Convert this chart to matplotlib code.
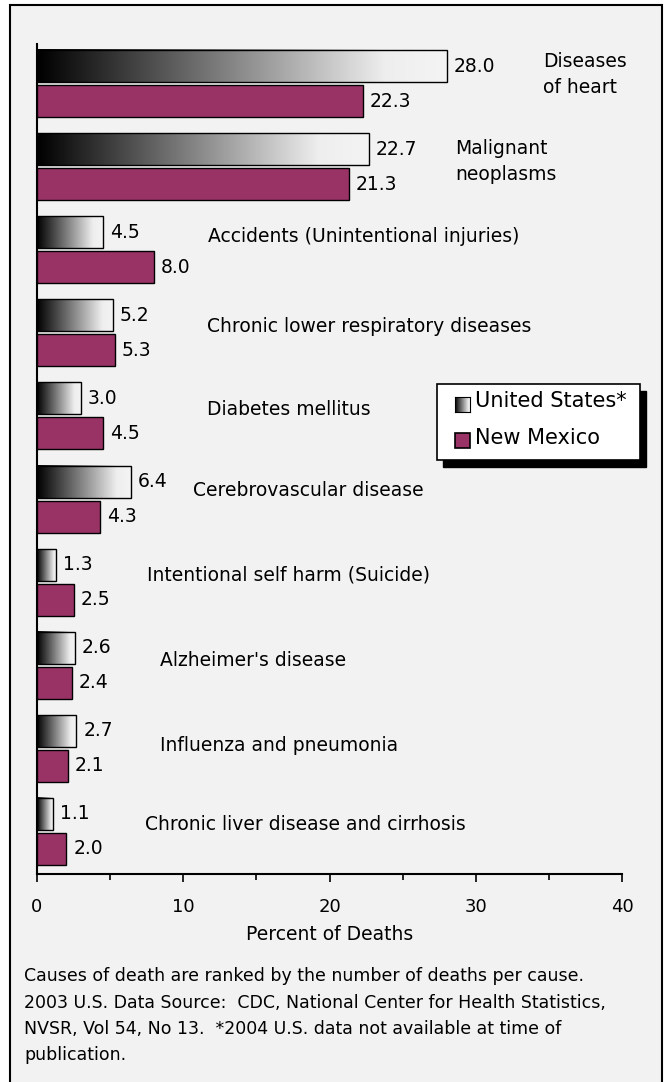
import matplotlib
matplotlib.use("Agg")
import matplotlib.pyplot as plt
import numpy as np
from matplotlib.colors import LinearSegmentedColormap
from matplotlib.patches import Rectangle

# data
causes = ["Diseases\nof heart", "Malignant\nneoplasms", "Accidents (Unintentional injuries)",
          "Chronic lower respiratory diseases", "Diabetes mellitus", "Cerebrovascular disease",
          "Intentional self harm (Suicide)", "Alzheimer's disease", "Influenza and pneumonia",
          "Chronic liver disease and cirrhosis"]
us = [28.0, 22.7, 4.5, 5.2, 3.0, 6.4, 1.3, 2.6, 2.7, 1.1]
nm = [22.3, 21.3, 8.0, 5.3, 4.5, 4.3, 2.5, 2.4, 2.1, 2.0]
x_ticks = [0, 10, 20, 30, 40]

# where each cause name sits (x in data units, y shift in pixels)
name_x = [34.6, 28.6, 11.7, 11.6, 11.6, 10.7, 7.5, 8.4, 8.4, 7.4]
name_dy = [-9, -5, -13, -6, -6, -9, -7, -5, -3, -7]

W, H = 665, 1082
plum = "#993366"
bg = "#F2F2F2"
grad = LinearSegmentedColormap.from_list("g", [(0, "#000000"), (0.5, "#8c8c8c"), (0.85, "#eeeeee"), (1, "#f4f4f4")])
g = np.linspace(0, 1, 256).reshape(1, -1)

def fx(px):
    return px / W

def fy(py):
    return 1 - py / H

fig = plt.figure(figsize=(W / 100, H / 100), dpi=100, facecolor="white")
fig.patches.append(Rectangle((fx(10), fy(1095)), fx(652), (1095 - 5) / H, transform=fig.transFigure,
                             facecolor=bg, edgecolor="black", linewidth=1.5, zorder=-5))

ax = fig.add_axes([fx(37), fy(874), fx(622 - 37), (874 - 44) / H], zorder=1)
ax.set_facecolor("none")
pitch = 83.1
bh = 32 / pitch
off = 17.5 / pitch
n = len(us)
for i in range(n):
    y_us = i - off
    y_nm = i + off
    ax.imshow(g, cmap=grad, aspect="auto", extent=[0, us[i], y_us + bh / 2, y_us - bh / 2], zorder=2)
    ax.add_patch(Rectangle((0, y_us - bh / 2), us[i], bh, facecolor="none", edgecolor="black", lw=1, zorder=3))
    ax.barh(y_nm, nm[i], height=bh, color=plum, edgecolor="black", lw=1, zorder=3)
    ax.annotate(f"{us[i]:.1f}", (us[i], y_us), xytext=(5, 0), textcoords="offset points",
                va="center", ha="left", fontsize=13.5)
    ax.annotate(f"{nm[i]:.1f}", (nm[i], y_nm), xytext=(5, 0), textcoords="offset points",
                va="center", ha="left", fontsize=13.5)
    ax.text(name_x[i], i + name_dy[i] / pitch, causes[i], va="center", ha="left",
            fontsize=13.5, linespacing=1.45)

ax.set_xlim(0, 40)
ax.set_ylim(n - 1 + 42.6 / pitch, -39.5 / pitch)
ax.set_xticks(x_ticks)
ax.set_xticks([5, 15, 25, 35], minor=True)
ax.tick_params(axis="x", which="major", length=6, width=1.2, direction="out", pad=11, labelsize=13)
ax.tick_params(axis="x", which="minor", length=4, width=1.2, direction="out")
ax.set_yticks([])
for s in ["top", "right"]:
    ax.spines[s].set_visible(False)
ax.spines["bottom"].set_linewidth(1.5)
ax.spines["left"].set_linewidth(1.5)
ax.set_xlabel("Percent of Deaths", fontsize=13.5, labelpad=7)

# legend drawn by hand
fig.patches.append(Rectangle((fx(443), fy(467)), fx(640 - 437), (460 - 384) / H, transform=fig.transFigure,
                             facecolor="black", edgecolor="black", zorder=5))
fig.patches.append(Rectangle((fx(437), fy(460)), fx(640 - 437), (460 - 384) / H, transform=fig.transFigure,
                             facecolor="white", edgecolor="black", lw=1.2, zorder=6))
sw = fig.add_axes([fx(455), fy(412), fx(15), 15 / H], zorder=7)
sw.imshow(g, cmap=grad, aspect="auto")
sw.set_xticks([])
sw.set_yticks([])
fig.patches.append(Rectangle((fx(455), fy(448)), fx(15), 15 / H, transform=fig.transFigure,
                             facecolor=plum, edgecolor="black", lw=1.2, zorder=7))
fig.text(fx(475), fy(401), "United States*", fontsize=15, va="center", ha="left", zorder=8)
fig.text(fx(475), fy(438), "New Mexico", fontsize=15, va="center", ha="left", zorder=8)

notes = ["Causes of death are ranked by the number of deaths per cause.",
         "2003 U.S. Data Source:  CDC, National Center for Health Statistics,",
         "NVSR, Vol 54, No 13.  *2004 U.S. data not available at time of",
         "publication."]
for k, line in enumerate(notes):
    fig.text(fx(24), fy(976 + 26.5 * k), line, fontsize=12.5, va="center", ha="left")

fig.savefig("out.png", dpi=100)
